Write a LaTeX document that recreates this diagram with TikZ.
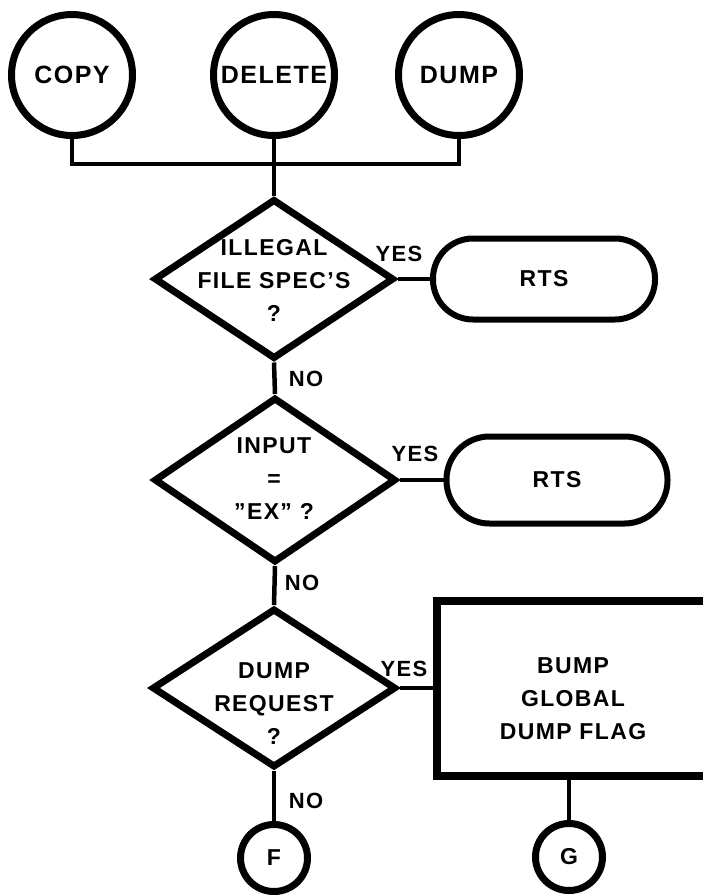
\documentclass[tikz,border=0pt]{standalone}
\usepackage{fontspec}
\newfontfamily\flowfont{Liberation Sans}[LetterSpace=6]
\usetikzlibrary{shapes.geometric}
\begin{document}
\begin{tikzpicture}[x=1pt,y=-1pt,
  shp/.style={draw=black, line width=7pt, fill=white, inner sep=0pt},
  term/.style={shp, circle, font=\flowfont\bfseries\fontsize{25}{30}\selectfont},
  conn/.style={draw=black, line width=4.5pt},
  dec/.style={shp, diamond},
  txt/.style={font=\flowfont\bfseries\fontsize{23}{33}\selectfont, align=center, inner sep=0pt},
  lbl/.style={font=\flowfont\bfseries\fontsize{22}{26}\selectfont, inner sep=0pt},
  rts/.style={shp, line width=6pt, font=\flowfont\bfseries\fontsize{23}{28}\selectfont}
]
\useasboundingbox (0,0) rectangle (703,895);
\clip (0,0) rectangle (703,895);
\fill[white] (0,0) rectangle (703,895);

% top terminals
\node[term, minimum size=121pt] (copy) at (72,75) {COPY};
\node[term, minimum size=121pt] (delete) at (274,75) {DELETE};
\node[term, minimum size=121pt] (dump) at (459,75) {DUMP};
\coordinate (bus) at (274,164);

% decisions
\node[dec, minimum width=240pt, minimum height=160pt] (d1) at (274,279) {};
\node[txt] (d1t) at (274,280) {ILLEGAL\\FILE SPEC’S\\?};
\node[dec, minimum width=242pt, minimum height=165pt] (d2) at (275,480) {};
\node[txt] (d2t) at (274,479) {INPUT\\=\\”EX” ?};
\node[dec, minimum width=244pt, minimum height=159pt] (d3) at (274,688) {};
\node[txt] (d3t) at (274,704) {DUMP\\REQUEST\\?};

% returns
\node[rts, minimum width=222pt, minimum height=81pt, rounded corners=40pt] (rts1) at (544,279) {RTS};
\node[rts, minimum width=221pt, minimum height=87pt, rounded corners=43pt] (rts2) at (557,480) {RTS};

% process box
\node[shp, line width=8pt, minimum width=276pt, minimum height=175pt] (box) at (575,688.5) {};
\node[txt] (boxt) at (573,699) {BUMP\\GLOBAL\\DUMP FLAG};

% off-page connectors
\node[term, minimum size=67pt, font=\flowfont\bfseries\fontsize{23}{28}\selectfont] (f) at (274,858) {F};
\node[term, minimum size=67pt, font=\flowfont\bfseries\fontsize{23}{28}\selectfont] (g) at (569,857) {G};

% labels
\node[lbl] (yes1) at (399,254) {YES};
\node[lbl] (no1) at (306,379) {NO};
\node[lbl] (yes2) at (415,454) {YES};
\node[lbl] (no2) at (302,583) {NO};
\node[lbl] (yes3) at (404,669) {YES};
\node[lbl] (no3) at (306,801) {NO};

% connectors
\draw[conn] (copy.south) |- (bus) -| (dump.south);
\draw[conn] (delete.south) -- (d1.north);
\draw[conn] (d1.east) -- (rts1.west);
\draw[conn] (d1.south) -- (d2.north);
\draw[conn] (d2.east) -- (rts2.west);
\draw[conn] (d2.south) -- (d3.north);
\draw[conn] (d3.east) -- (d3.east -| box.west);
\draw[conn] (d3.south) -- (f.north);
\draw[conn] (g.north |- box.south) -- (g.north);
\end{tikzpicture}
\end{document}
